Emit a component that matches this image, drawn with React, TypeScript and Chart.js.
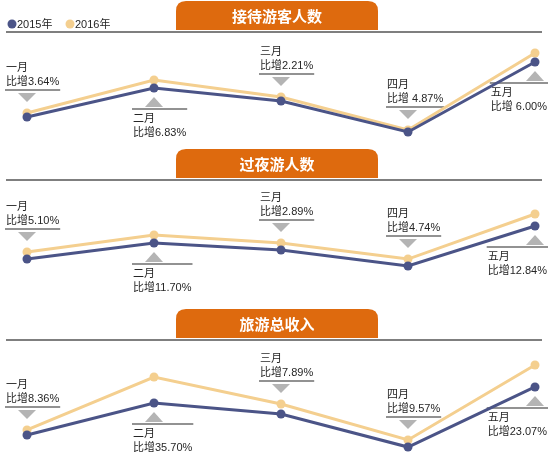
import React, { useEffect, useRef } from "react";
import { Chart, registerables } from "chart.js";

Chart.register(...registerables);

// ---- data ----
const months = ["一月", "二月", "三月", "四月", "五月"];
const seriesNames = ["2015年", "2016年"];
const panelTitles = ["接待游客人数", "过夜游人数", "旅游总收入"];

// relative index values (no axis in the original)
const visitors2015 = [22.7, 49.1, 37.3, 9.1, 72.7];
const visitors2016 = [26.4, 56.4, 40.9, 10.9, 80.9];
const visitorsGrowth = ["3.64%", "6.83%", "2.21%", " 4.87%", " 6.00%"];

const overnight2015 = [35.2, 48.4, 42.6, 29.5, 62.3];
const overnight2016 = [41.0, 54.9, 48.4, 35.2, 72.1];
const overnightGrowth = ["5.10%", "11.70%", "2.89%", "4.74%", "12.84%"];

const revenue2015 = [16.7, 44.7, 35.1, 6.1, 58.8];
const revenue2016 = [21.1, 67.5, 43.9, 12.3, 78.1];
const revenueGrowth = ["8.36%", "35.70%", "7.89%", "9.57%", "23.07%"];

// label placement relative to the points
const labelSide = ["above", "below", "above", "above", "below"];

// ---- styles ----
const DARK = "#4b5487";
const LIGHT = "#f4cf8f";
const ORANGE = "#de6a0e";
const RULE = "#7f7f7f";
const TRI = "#b4b4b4";
const TEXT = "#262626";
const W = 550;
const FONT = '11px "Liberation Sans", "Noto Sans CJK SC", sans-serif';
const TITLE_FONT = 'bold 15px "Noto Sans CJK SC", sans-serif';

type PanelProps = {
  top: number;
  height: number;
  title: string;
  d2015: number[];
  d2016: number[];
  growth: string[];
  showLegend: boolean;
};

function Panel({ top, height, title, d2015, d2016, growth, showLegend }: PanelProps) {
  const ref = useRef<HTMLCanvasElement | null>(null);

  useEffect(() => {
    const canvas = ref.current;
    if (!canvas) return;

    const deco = {
      id: "deco",
      beforeDatasetsDraw(chart: any) {
        const ctx = chart.ctx as CanvasRenderingContext2D;
        ctx.save();
        // banner
        const cx = 277;
        const bw = 202;
        const bx = cx - bw / 2;
        const by = 1;
        const bh = 29;
        const r = 10;
        ctx.fillStyle = ORANGE;
        ctx.beginPath();
        ctx.moveTo(bx, by + bh);
        ctx.lineTo(bx, by + r);
        ctx.quadraticCurveTo(bx, by, bx + r, by);
        ctx.lineTo(bx + bw - r, by);
        ctx.quadraticCurveTo(bx + bw, by, bx + bw, by + r);
        ctx.lineTo(bx + bw, by + bh);
        ctx.closePath();
        ctx.fill();
        ctx.fillStyle = "#ffffff";
        ctx.font = TITLE_FONT;
        ctx.textAlign = "center";
        ctx.textBaseline = "middle";
        ctx.fillText(title, cx, by + bh / 2 + 1);

        // rule line
        ctx.strokeStyle = RULE;
        ctx.lineWidth = 2;
        ctx.beginPath();
        ctx.moveTo(6, 32);
        ctx.lineTo(542, 32);
        ctx.stroke();

        // legend
        if (showLegend) {
          ctx.font = FONT;
          ctx.textAlign = "left";
          ctx.textBaseline = "middle";
          const items = [
            { x: 12, c: DARK, t: seriesNames[0] },
            { x: 70, c: LIGHT, t: seriesNames[1] },
          ];
          for (const it of items) {
            ctx.fillStyle = it.c;
            ctx.beginPath();
            ctx.arc(it.x, 24, 4.5, 0, Math.PI * 2);
            ctx.fill();
            ctx.fillStyle = TEXT;
            ctx.fillText(it.t, it.x + 5, 24.5);
          }
        }

        // point labels
        const m0 = chart.getDatasetMeta(0);
        const m1 = chart.getDatasetMeta(1);
        ctx.font = FONT;
        ctx.textAlign = "left";
        ctx.textBaseline = "middle";
        for (let i = 0; i < months.length; i++) {
          const px = m0.data[i].x;
          const ya = m0.data[i].y;
          const yb = m1.data[i].y;
          const t1 = months[i];
          const t2 = "比增" + growth[i];
          const tw = Math.max(ctx.measureText(t1).width, ctx.measureText(t2).width);
          let left = px - 21;
          if (left + tw > W - 3) left = W - 3 - tw;
          if (left < 6) left = 6;
          const above = labelSide[i] === "above";
          let triA: number, triB: number, lineY: number, y1: number, y2: number;
          if (above) {
            const a = Math.min(ya, yb);
            triB = a - 11;
            triA = a - 20;
            lineY = a - 23;
            y2 = a - 31;
            y1 = a - 45;
          } else {
            const a = Math.max(ya, yb);
            triA = a + 19;
            triB = a + 9;
            lineY = a + 21;
            y1 = a + 31;
            y2 = a + 45;
          }
          // triangle
          ctx.fillStyle = TRI;
          ctx.beginPath();
          ctx.moveTo(px - 9, triA);
          ctx.lineTo(px + 9, triA);
          ctx.lineTo(px, triB);
          ctx.closePath();
          ctx.fill();
          // underline
          ctx.strokeStyle = "#6e6e6e";
          ctx.lineWidth = 1.5;
          ctx.beginPath();
          ctx.moveTo(left - 1, lineY);
          ctx.lineTo(left + tw + 1, lineY);
          ctx.stroke();
          // text
          ctx.fillStyle = TEXT;
          ctx.fillText(t1, left, y1);
          ctx.fillText(t2, left, y2);
        }
        ctx.restore();
      },
    };

    const chart = new Chart(canvas, {
      type: "line",
      data: {
        labels: months,
        datasets: [
          {
            label: seriesNames[0],
            data: d2015,
            borderColor: DARK,
            backgroundColor: DARK,
            pointBackgroundColor: DARK,
            pointBorderWidth: 0,
            pointRadius: 4.5,
            borderWidth: 3,
            tension: 0,
            clip: false as any,
          },
          {
            label: seriesNames[1],
            data: d2016,
            borderColor: LIGHT,
            backgroundColor: LIGHT,
            pointBackgroundColor: LIGHT,
            pointBorderWidth: 0,
            pointRadius: 4.5,
            borderWidth: 3,
            tension: 0,
            clip: false as any,
          },
        ],
      },
      options: {
        animation: false,
        responsive: false,
        maintainAspectRatio: false,
        events: [],
        layout: { autoPadding: false, padding: { left: 27, right: 15, top: 32, bottom: 6 } },
        scales: {
          x: { display: false, offset: false },
          y: { display: false, min: 0, max: 100 },
        },
        plugins: {
          legend: { display: false },
          tooltip: { enabled: false },
        },
      } as any,
      plugins: [deco],
    });
    return () => chart.destroy();
  }, [top, height, title, d2015, d2016, growth, showLegend]);

  return (
    <canvas
      ref={ref}
      width={W}
      height={height}
      style={{ position: "absolute", left: 0, top, width: W, height }}
    />
  );
}

export default function App() {
  return (
    <div
      style={{
        position: "absolute",
        left: 0,
        top: 0,
        width: W,
        height: 460,
        background: "#ffffff",
        overflow: "hidden",
      }}
    >
      <Panel top={0} height={148} title={panelTitles[0]} d2015={visitors2015} d2016={visitors2016} growth={visitorsGrowth} showLegend={true} />
      <Panel top={148} height={160} title={panelTitles[1]} d2015={overnight2015} d2016={overnight2016} growth={overnightGrowth} showLegend={false} />
      <Panel top={308} height={152} title={panelTitles[2]} d2015={revenue2015} d2016={revenue2016} growth={revenueGrowth} showLegend={false} />
    </div>
  );
}
